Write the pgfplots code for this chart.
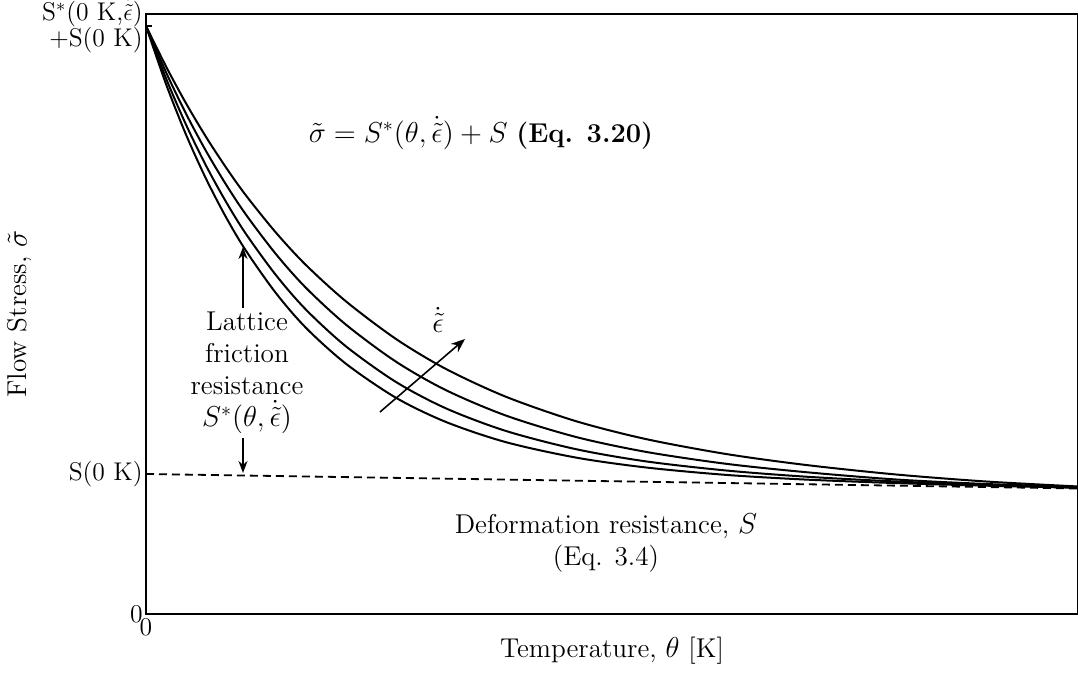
\documentclass[border=0pt]{standalone}
\usepackage{pgfplots}
\pgfplotsset{compat=1.18}
\usetikzlibrary{arrows.meta}
\begin{document}
\begin{tikzpicture}[font=\fontsize{13.6}{16}\selectfont]
\path[use as bounding box] (-73pt,-34.5pt) rectangle (466pt,307pt);
\begin{axis}[
  at={(0,0)}, anchor=south west,
  scale only axis, width=466pt, height=300pt,
  xmin=0, xmax=932, ymin=0, ymax=600,
  axis line style={line width=0.75pt},
  xtick={0}, xticklabels={0},
  ytick={0,140,588},
  yticklabels={0, S(0 K), {S$^*$(0 K,$\dot{\tilde{\epsilon}}$)\\+S(0 K)}},
  yticklabel style={align=right, inner sep=1.5pt, font=\fontsize{12.8}{13.2}\selectfont},
  xticklabel style={inner sep=2pt, font=\fontsize{12.8}{13.2}\selectfont},
  xtick pos=left, ytick pos=left,
  tick align=inside, major tick length=3pt,
  tick style={black, line width=0.6pt},
  xlabel={Temperature, $\theta$ [K]},
  ylabel={Flow Stress, $\tilde{\sigma}$},
  xlabel style={at={(axis description cs:0.5,-0.0617)}, anchor=center},
  ylabel style={at={(axis description cs:-0.1352,0.5)}, anchor=center},
  clip=false,
]
% curves (increasing strain rate)
\addplot[black, line width=1pt, smooth] coordinates {
(0,588) (20,530) (40,479.4) (60,435.3) (80,396.8) (100,363.2) (130,320.8) (160,286.1)
(200,250.2) (250,216.2) (300,192.0) (360,171.8) (430,156.4) (500,146.5) (580,139.1)
(660,134.4) (750,130.9) (840,128.3) (932,126.2)};
\addplot[black, line width=1pt, smooth] coordinates {
(0,588) (20,535.7) (40,489.4) (60,448.4) (80,412.2) (100,380.0) (130,338.8) (160,304.3)
(200,267.6) (250,232.0) (300,205.6) (360,183.0) (430,164.8) (500,152.6) (580,143.5)
(660,137.3) (750,132.5) (840,129.0) (932,126.5)};
\addplot[black, line width=1pt, smooth] coordinates {
(0,588) (20,541.8) (40,500.3) (60,463.0) (80,429.5) (100,399.3) (130,359.8) (160,326.1)
(200,289.3) (250,252.3) (300,223.8) (360,198.4) (430,177.0) (500,162.1) (580,150.2)
(660,141.8) (750,134.5) (840,130.0) (932,127.0)};
\addplot[black, line width=1pt, smooth] coordinates {
(0,588) (20,547.6) (40,510.7) (60,477.1) (80,446.5) (100,418.5) (130,381.3) (160,348.9)
(200,312.6) (250,275.0) (300,245.0) (360,217.2) (430,192.8) (500,174.9) (580,160.0)
(660,149.0) (750,139.5) (840,132.5) (932,127.5)};
% deformation resistance S
\addplot[black, line width=0.9pt, dash pattern=on 4pt off 2.5pt] coordinates {(0,140) (932,125.5)};

% annotations
\node[align=center] at (axis cs:335,481) {$\tilde{\sigma} = S^*(\theta,\dot{\tilde{\epsilon}}) + S$ \textbf{(Eq. 3.20)}};
\node[align=center] at (axis cs:101,241) {Lattice\\friction\\resistance\\$S^*(\theta,\dot{\tilde{\epsilon}})$};
\draw[line width=0.8pt, -{Stealth[length=6pt,width=4.5pt]}] (axis cs:97,306) -- (axis cs:97,367);
\draw[line width=0.8pt, -{Stealth[length=6pt,width=4.5pt]}] (axis cs:97,176) -- (axis cs:97,141);
\draw[line width=0.8pt, -{Stealth[length=7pt,width=5.5pt]}] (axis cs:234,202) -- (axis cs:319,275);
\node at (axis cs:292,294) {$\dot{\tilde{\epsilon}}$};
\node[align=center] at (axis cs:460,71) {Deformation resistance, $S$\\(Eq. 3.4)};
\end{axis}
\end{tikzpicture}
\end{document}
